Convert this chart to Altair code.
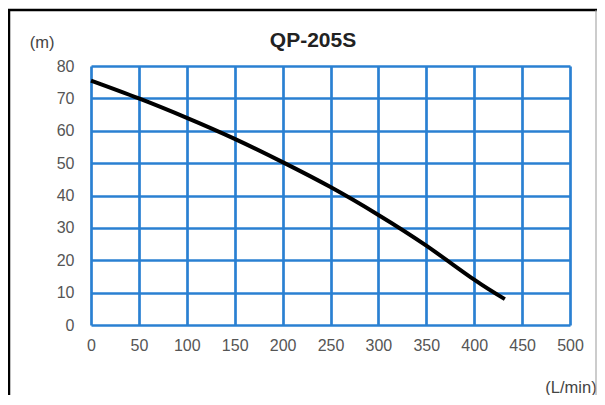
import altair as alt
import pandas as pd

flow = [0, 50, 100, 150, 200, 250, 300, 350, 400, 432]
head = [75.5, 70, 64, 57.5, 50.3, 42.6, 34, 24.5, 14, 8]
x_ticks = [0, 50, 100, 150, 200, 250, 300, 350, 400, 450, 500]
y_ticks = [0, 10, 20, 30, 40, 50, 60, 70, 80]
title_text = "QP-205S"
y_unit = "(m)"
x_unit = "(L/min)"

df = pd.DataFrame({"flow": flow, "head": head})

W, H = 479, 259
PL, PT, PR, PB = 83, 58, 27, 70
GRID = "#2a80d2"
FONT = "Liberation Sans"

line = alt.Chart(df).mark_line(color="black", strokeWidth=4, interpolate="natural").encode(
    x=alt.X("flow:Q", scale=alt.Scale(domain=[0, 500], nice=False),
            axis=alt.Axis(values=x_ticks, title=None, grid=True, gridColor=GRID, gridWidth=2.7,
                          gridOpacity=1, domain=False, ticks=False, labelPadding=20,
                          labelFontSize=16, labelColor="#555", labelFont=FONT,
                          labelBaseline="middle", labelFlush=False)),
    y=alt.Y("head:Q", scale=alt.Scale(domain=[0, 80], nice=False),
            axis=alt.Axis(values=y_ticks, title=None, grid=True, gridColor=GRID, gridWidth=2.7,
                          gridOpacity=1, domain=False, ticks=False, labelPadding=17,
                          labelFontSize=16, labelColor="#555", labelFont=FONT,
                          labelFlush=False)),
)

def txt(t, x, y, size, weight="normal", color="#444", align="center"):
    return alt.Chart(pd.DataFrame({"t": [t]})).mark_text(
        fontSize=size, fontWeight=weight, color=color, font=FONT, align=align, baseline="middle"
    ).encode(text="t:N", x=alt.value(x), y=alt.value(y))

title = txt(title_text, 222, -25, 21, "bold", "#222")
ym = txt(y_unit, -49, -23, 16.5)
xm = txt(x_unit, 480, 322, 16.5)

def rule(x, x2, y, y2, color, w):
    return alt.Chart(pd.DataFrame({"a": [0]})).mark_rule(color=color, strokeWidth=w).encode(
        x=alt.value(x), x2=alt.value(x2), y=alt.value(y), y2=alt.value(y2))

frame = [
    rule(-82, -82, -56, H + PB, "black", 2.5),
    rule(-83, W + PR, -56, -56, "black", 2.5),
    rule(W + PR - 1, W + PR - 1, -56, H + PB, "#999", 1),
]

chart = alt.layer(line, title, ym, xm, *frame).properties(
    width=W, height=H,
    padding={"left": PL, "top": PT, "right": PR, "bottom": PB},
    autosize=alt.AutoSizeParams(type="none"),
).configure_view(stroke=None).configure(background="white")

chart.save("out.html", embed_options={"renderer": "svg", "actions": False})
